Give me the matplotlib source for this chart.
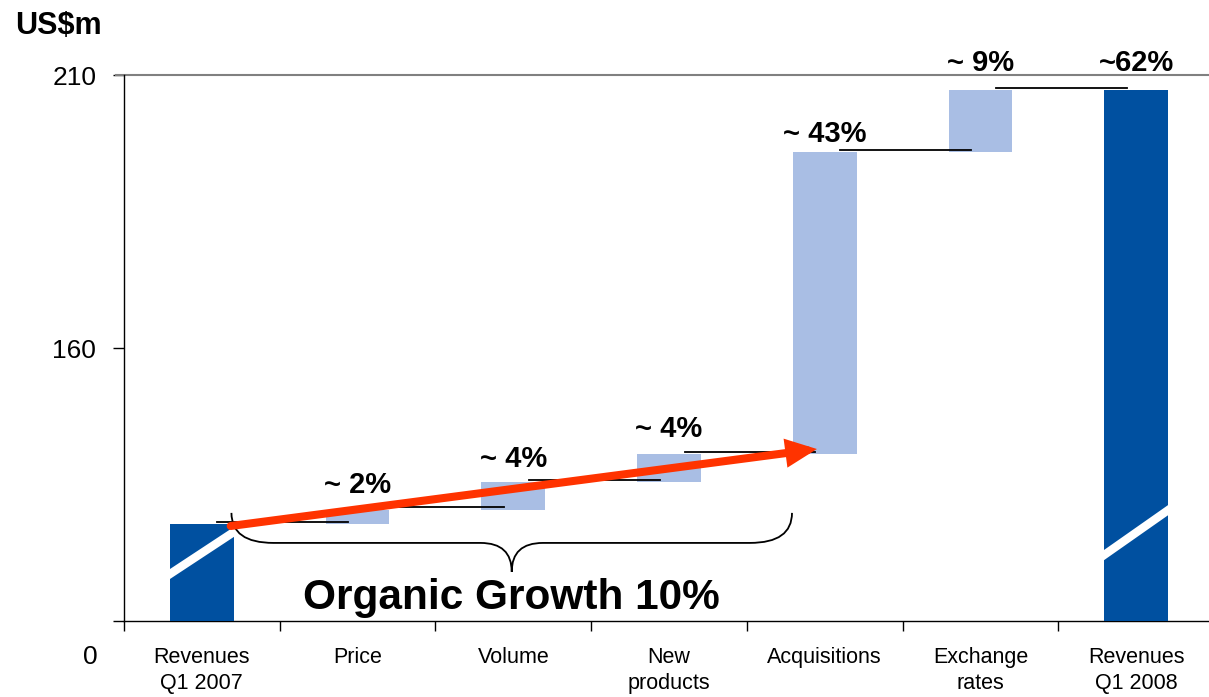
import matplotlib
matplotlib.use('Agg')
import matplotlib.pyplot as plt
from matplotlib.path import Path
from matplotlib.patches import PathPatch
import numpy as np

plt.rcParams['font.family'] = ['Liberation Sans', 'DejaVu Sans']

# ── Revenue bridge Q1 2007 -> Q1 2008 (US$m) ──
categories = ['Revenues\nQ1 2007', 'Price', 'Volume', 'New\nproducts',
              'Acquisitions', 'Exchange\nrates', 'Revenues\nQ1 2008']
start_rev = 127.8
changes = [2.6, 5.1, 5.1, 55.3, 11.3]
pct_labels = ['~ 2%', '~ 4%', '~ 4%', '~ 43%', '~ 9%', '~62%']
ytick_vals = [110, 160, 210]
ytick_text = ['', '160', '210']
organic_text = 'Organic Growth 10%'

DARK = '#0050a0'
LIGHT = '#a9bee4'
ARROW = '#ff3300'

cum = start_rev + np.concatenate([[0], np.cumsum(changes)])
end_rev = cum[-1]
x = np.arange(len(categories))
bw = 0.41

fig = plt.figure(figsize=(12.09, 6.97), dpi=100)
ax = fig.add_axes([124 / 1209, 1 - 621 / 697, 1090 / 1209, 546 / 697])
ax.set_xlim(-0.5, 6.5)
ax.set_ylim(110, 210)

# totals (broken axis -> bars start at zero, clipped)
b0 = ax.bar(x[0], start_rev, width=bw, bottom=0, color=DARK, zorder=3)[0]
b1 = ax.bar(x[-1], end_rev, width=bw, bottom=0, color=DARK, zorder=3)[0]
# increments
ax.bar(x[1:-1], changes, width=bw, bottom=cum[:-1], color=LIGHT, zorder=3)

# axis-break stripes on the total bars
for bar, (ya, yb) in ((b0, (118.6, 126.3)), (b1, (122.1, 130.3))):
    xl = bar.get_x()
    w = bar.get_width()
    ln, = ax.plot([xl - 0.1, xl + w + 0.1],
                  [ya - (yb - ya) * 0.1 / w, yb + (yb - ya) * 0.1 / w],
                  color='white', lw=6, zorder=4, solid_capstyle='butt')
    ln.set_clip_path(bar)

# connector lines between steps
levels = cum
for i in range(len(categories) - 1):
    ax.plot([x[i] + 0.1, x[i + 1] - 0.06], [levels[i] + 0.4] * 2,
            color='black', lw=1.3, zorder=5)

# percentage labels
gaps = [17, 15, 17, 10, 19, 19]
for i, lab in enumerate(pct_labels):
    top = cum[i + 1] if i < len(changes) else end_rev
    ax.annotate(lab, (x[i + 1], top), xytext=(0, gaps[i]), textcoords='offset pixels',
                ha='center', va='baseline', fontsize=21, fontweight='bold', zorder=6)

# organic growth arrow
ax.annotate('', xy=(3.95, cum[3] + 0.9), xytext=(x[0] + bw / 2 - 0.02, start_rev - 0.4),
            arrowprops=dict(arrowstyle='-|>,head_length=1.3,head_width=0.6',
                            lw=5.8, color=ARROW, shrinkA=0, shrinkB=0,
                            joinstyle='miter'),
            zorder=7)

# curly brace under the organic steps
x0, x1, xm = 0.19, 3.79, 1.99
yt, ymid, ytip = 129.8, 124.3, 119.0
rx, rt = 0.27, 0.2
verts = [(x0, yt), (x0, ymid), (x0 + rx, ymid),
         (xm - rt, ymid), (xm, ymid), (xm, ytip),
         (xm, ymid), (xm + rt, ymid),
         (x1 - rx, ymid), (x1, ymid), (x1, yt)]
codes = [Path.MOVETO, Path.CURVE3, Path.CURVE3,
         Path.LINETO, Path.CURVE3, Path.CURVE3,
         Path.CURVE3, Path.CURVE3,
         Path.LINETO, Path.CURVE3, Path.CURVE3]
ax.add_patch(PathPatch(Path(verts, codes), fill=False, lw=1.3, color='black', zorder=5))
ax.text(xm, 112.2, organic_text, ha='center', va='baseline',
        fontsize=30.5, fontweight='bold', zorder=6)

# axes styling
for s in ('top', 'right'):
    ax.spines[s].set_visible(False)
for s in ('left', 'bottom'):
    ax.spines[s].set_linewidth(1.0)
ax.axhline(210, xmin=-8 / 1090, xmax=1, color='#808080', lw=1.5, clip_on=False, zorder=2)

ax.set_yticks(ytick_vals)
ax.set_yticklabels(ytick_text, fontsize=19)
ax.tick_params(axis='y', direction='out', length=8, width=1.0, pad=12)
ax.yaxis.get_major_ticks()[2].tick1line.set_color('#808080')

ax.set_xticks(x)
ax.set_xticklabels(categories, fontsize=15.5, linespacing=1.3)
ax.set_xticks(np.arange(-0.5, 6.6, 1.0), minor=True)
ax.tick_params(axis='x', which='major', length=0, pad=19)
ax.tick_params(axis='x', which='minor', direction='out', length=7, width=1.0)

ax.annotate('0', (0, 0), xycoords='axes fraction', xytext=(-26, -36),
            textcoords='offset pixels', ha='right', va='center', fontsize=19)
fig.text(15 / 1209, 1 - 11 / 697, 'US$m', ha='left', va='top', fontsize=22, fontweight='bold')

fig.savefig('out.png', dpi=100, facecolor='white')
